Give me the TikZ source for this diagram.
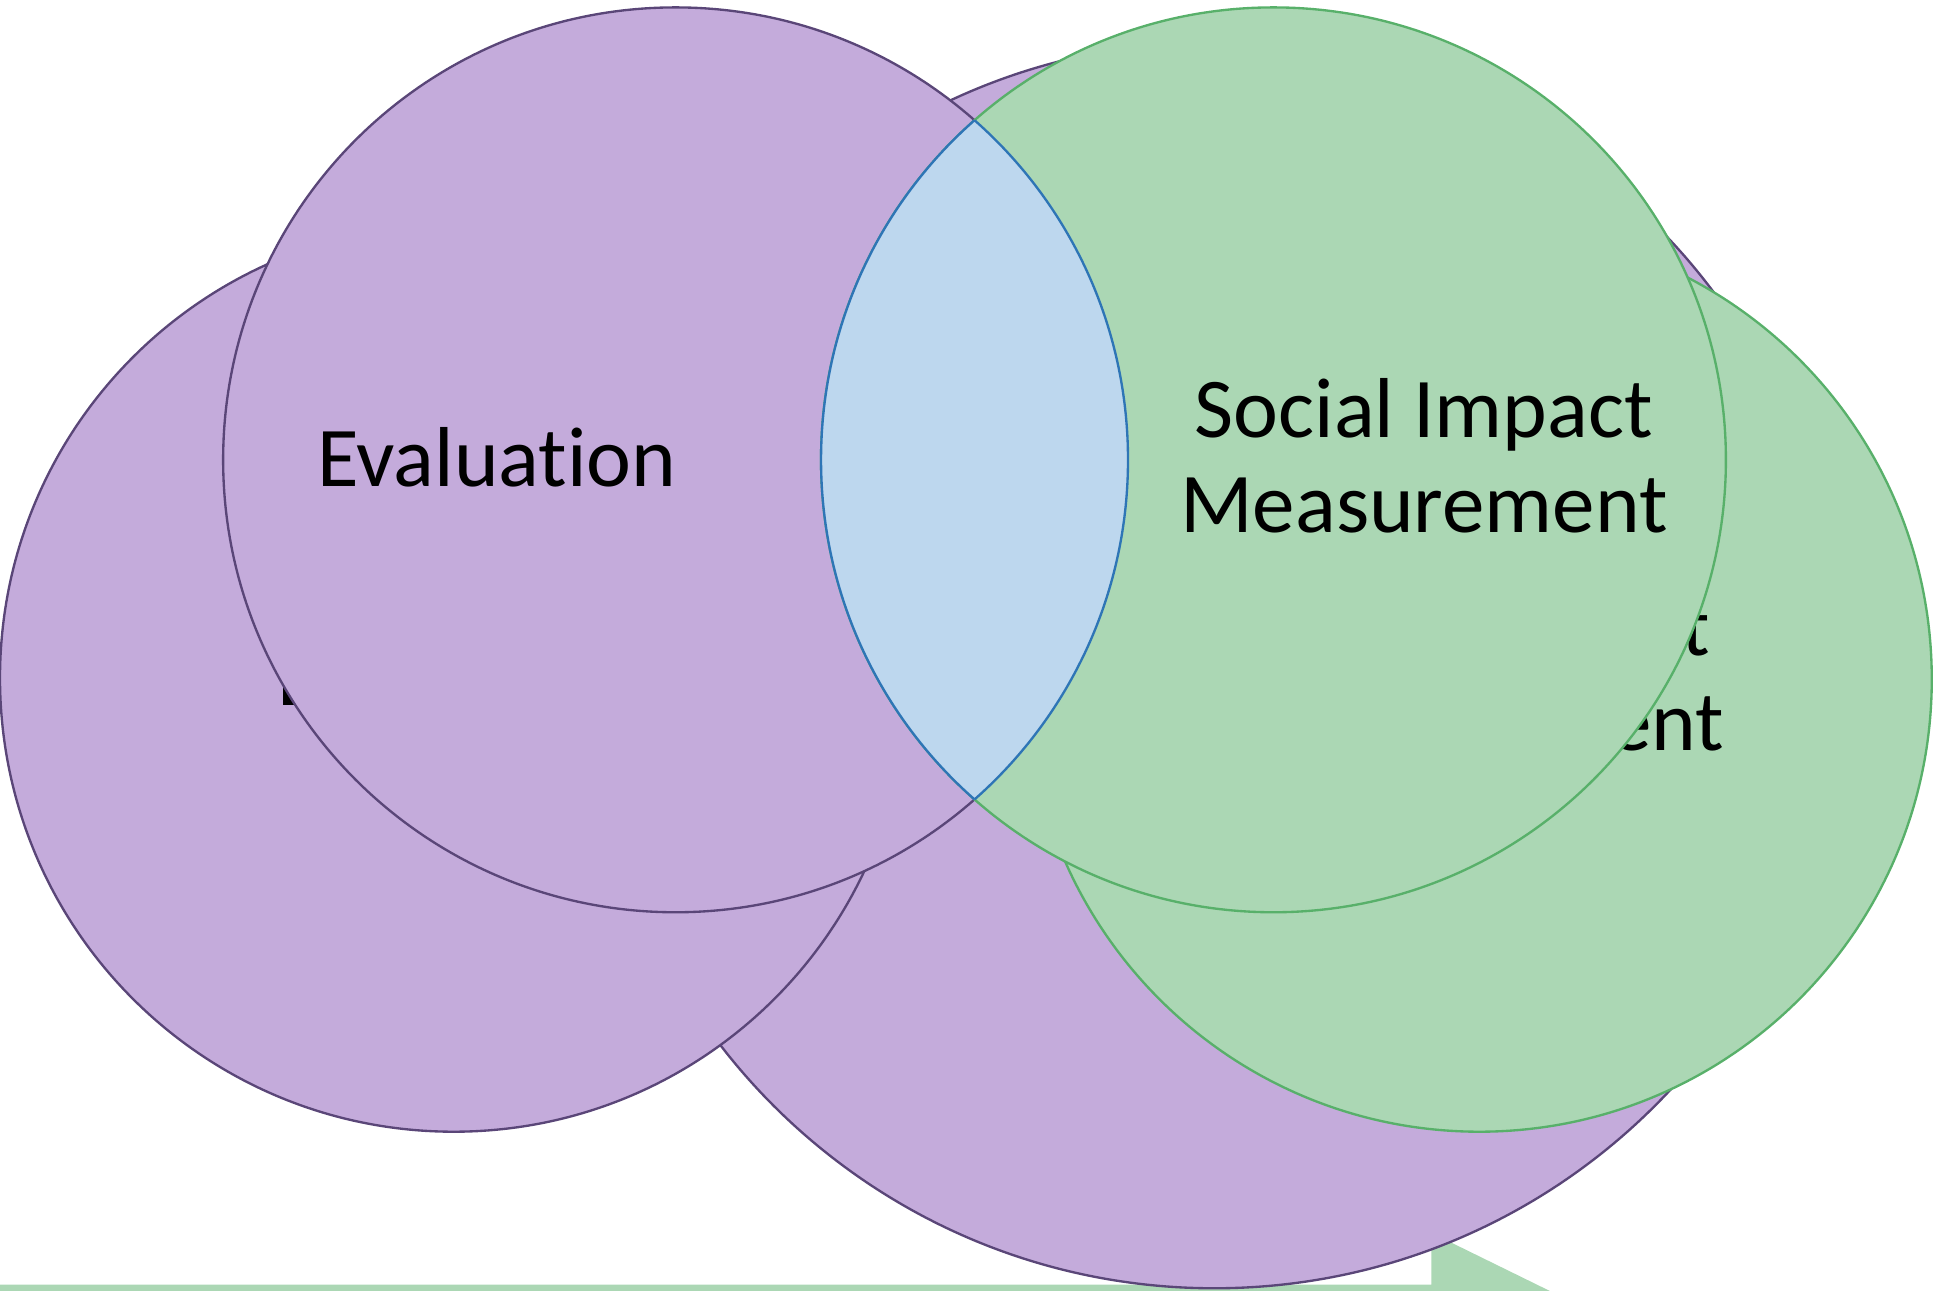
\documentclass[tikz,border=0pt]{standalone}
\usepackage{fontspec}
\setmainfont{Carlito}[RawFeature={-liga}]
\definecolor{purfill}{HTML}{C4ABDB}
\definecolor{purline}{HTML}{5A4678}
\definecolor{grnfill}{HTML}{ABD7B4}
\definecolor{grnline}{HTML}{58B06A}
\definecolor{blufill}{HTML}{BDD7EE}
\definecolor{bluline}{HTML}{2E75B6}
\definecolor{arrfill}{HTML}{ABD7B4}
\begin{document}
\begin{tikzpicture}[x=1pt,y=-1pt,
  purcirc/.style={fill=purfill,draw=purline,line width=1.9pt},
  grncirc/.style={fill=grnfill,draw=grnline,line width=1.9pt},
  lbl/.style={font=\fontsize{69}{77}\selectfont,align=center,inner sep=0pt,anchor=base}]
\useasboundingbox (0,0) rectangle (1568,1047);
\clip (0,0) rectangle (1568,1047);
% background arrow
\fill[arrfill] (-10,1042) -- (1161,1042) -- (1161,1000) -- (1320,1078) -- (-10,1078) -- cycle;
% big purple circle
\path[purcirc] (985,539.5) circle[radius=505.5pt];
% left purple circle
\path[purcirc] (368,550) circle[radius=368pt];
\node[lbl] (lefttxt) at (371,572) {Evaluation};
% right green circle
\path[grncirc] (1200,551) circle[radius=367pt];
\node[lbl] (righttxt) at (1201,609) {Social Impact\\Measurement};
% evaluation circle
\path[purcirc] (548,373) circle[radius=367pt];
\node[lbl] (evaltxt) at (403,395) {Evaluation};
% social impact circle
\path[grncirc] (1033,373) circle[radius=367pt];
\node[lbl] (sitxt) at (1155,432) {Social Impact\\Measurement};
% lens
\begin{scope}
  \clip (548,373) circle[radius=367pt];
  \fill[blufill] (1033,373) circle[radius=367pt];
  \draw[bluline,line width=1.9pt] (1033,373) circle[radius=367pt];
\end{scope}
\begin{scope}
  \clip (1033,373) circle[radius=367pt];
  \draw[bluline,line width=1.9pt] (548,373) circle[radius=367pt];
\end{scope}
\end{tikzpicture}
\end{document}
